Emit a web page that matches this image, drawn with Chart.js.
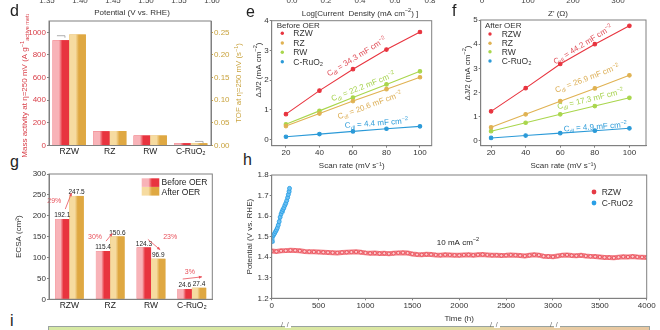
<!DOCTYPE html>
<html>
<head>
<meta charset="utf-8">
<script src="https://cdn.jsdelivr.net/npm/chart.js@4.4.1/dist/chart.umd.min.js"></script>
<style>
  html, body { margin: 0; padding: 0; background: #fff; }
  body { width: 660px; height: 330px; overflow: hidden; position: relative; font-family: "Liberation Sans", Arial, sans-serif; }
  canvas { position: absolute; }
  .p { position: absolute; line-height: 1; font-size: 16px; color: #222; }
  #strip { position: absolute; left: 48px; top: 326px; width: 600px; height: 10px; border: 1px solid #9aa3a0;
    background: linear-gradient(to right, #d6e9a4 0%, #dbe6a2 60%, #e2d8a2 73%, #e9cfa6 76%, #e8c7a0 100%); }
  .brk { position: absolute; top: 321px; font-size: 7px; color: #666; line-height: 1; }
  .gap { position: absolute; top: 325px; width: 6px; height: 3px; background: #fff; }
</style>
</head>
<body>

<canvas id="cTop" width="660" height="20" style="left:0;top:0"></canvas>

<div class="p" style="left:10px;top:3px">d</div>
<div class="p" style="left:246px;top:4px">e</div>
<div class="p" style="left:452px;top:3px">f</div>
<div class="p" style="left:10px;top:154px">g</div>
<div class="p" style="left:243px;top:152px">h</div>
<div class="p" style="left:10px;top:313px">i</div>

<canvas id="cD" width="245" height="156" style="left:0;top:14px"></canvas>
<canvas id="cE" width="200" height="158" style="left:245px;top:14px"></canvas>
<canvas id="cF" width="210" height="158" style="left:450px;top:14px"></canvas>
<canvas id="cG" width="245" height="150" style="left:0;top:165px"></canvas>
<canvas id="cH" width="415" height="160" style="left:245px;top:165px"></canvas>

<div id="strip"></div>
<div class="gap" style="left:285px"></div><div class="brk" style="left:281px">/ &nbsp;/</div>
<div class="gap" style="left:494px"></div><div class="brk" style="left:490px">/ &nbsp;/</div>
<div class="gap" style="left:554px"></div><div class="brk" style="left:550px">/ &nbsp;/</div>

<script>
// ---- data ----
const samples = ['RZW', 'RZ', 'RW', 'C-RuO₂'];
const massActivity = [930, 125, 88, 20];
const massActivityErr = [40, 0, 0, 0];
const tof = [0.245, 0.032, 0.022, 0.005];
const tofErr = [0, 0, 0, 0.004];
const massTicks = [0, 200, 400, 600, 800, 1000];
const tofTicks = [0, 0.05, 0.10, 0.15, 0.20, 0.25];

const scanRates = [20, 40, 60, 80, 100];
const beforeRZW = [0.86, 1.65, 2.37, 3.03, 3.62];
const beforeRZ = [0.46, 0.88, 1.30, 1.70, 2.10];
const beforeRW = [0.52, 0.97, 1.42, 1.86, 2.30];
const beforeRuO2 = [0.10, 0.19, 0.28, 0.37, 0.45];
const afterRZW = [1.22, 2.18, 3.18, 4.00, 4.76];
const afterRZ = [0.56, 1.10, 1.64, 2.17, 2.71];
const afterRW = [0.40, 0.75, 1.10, 1.44, 1.78];
const afterRuO2 = [0.12, 0.22, 0.32, 0.42, 0.52];
const cdlBefore = [34.3, 20.6, 22.2, 4.4];   // RZW, RZ, RW, C-RuO2
const cdlAfter = [44.2, 26.9, 17.3, 4.9];
const eTicksY = [0, 1, 2, 3, 4];
const fTicksY = [0, 1, 2, 3, 4, 5];

const ecsaBefore = [192.1, 115.4, 124.3, 24.6];
const ecsaAfter = [247.5, 150.6, 96.9, 27.4];
const ecsaChange = ['29%', '30%', '23%', '3%'];
const ecsaTicks = [0, 50, 100, 150, 200, 250, 300];

const rzwStep = 50; // h between samples
const rzwPotential = [
  1.430, 1.428, 1.431, 1.432, 1.434, 1.433, 1.431, 1.428, 1.427, 1.426,
  1.425, 1.424, 1.423, 1.422, 1.421, 1.423, 1.424, 1.425, 1.426, 1.424,
  1.421, 1.419, 1.420, 1.418, 1.419, 1.417, 1.419, 1.421, 1.422, 1.420,
  1.416, 1.413, 1.412, 1.414, 1.413, 1.411, 1.410, 1.412, 1.411, 1.410,
  1.409, 1.411, 1.412, 1.410, 1.412, 1.413, 1.411, 1.409, 1.410, 1.408,
  1.409, 1.411, 1.410, 1.408, 1.406, 1.409, 1.412, 1.410, 1.405, 1.404,
  1.402, 1.406, 1.410, 1.411, 1.408, 1.407, 1.409, 1.406, 1.404, 1.403,
  1.401, 1.399, 1.398, 1.397, 1.400, 1.402, 1.401, 1.403, 1.401, 1.400, 1.399
];
const ruo2Hours = [5, 12, 20, 30, 40, 50, 60, 70, 80, 90, 100, 110, 120, 130, 140, 150, 160, 170, 178, 185, 190];
const ruo2Potential = [1.476, 1.503, 1.508, 1.515, 1.524, 1.532, 1.542, 1.556, 1.573, 1.595, 1.610,
  1.622, 1.632, 1.640, 1.652, 1.662, 1.675, 1.690, 1.705, 1.720, 1.735];
const hTicksX = [0, 500, 1000, 1500, 2000, 2500, 3000, 3500, 4000];
const hTicksY = [1.2, 1.3, 1.4, 1.5, 1.6, 1.7, 1.8];

// cut-off axes of the row above (only their lower edge shows)
const topTickLabels = [
  ['1.35', 47], ['1.40', 80], ['1.45', 113], ['1.50', 146], ['1.55', 179], ['1.60', 212],
  ['0.0', 292], ['0.2', 326], ['0.4', 360], ['0.6', 395], ['0.8', 430],
  ['0', 482], ['100', 528], ['200', 573], ['300', 618]
];

// ---- style ----
const FONT = '"Liberation Sans", Arial, sans-serif';
Chart.defaults.font.family = FONT;
Chart.defaults.font.size = 8;
Chart.defaults.color = '#333';
Chart.defaults.animation = false;
Chart.defaults.responsive = false;
Chart.defaults.plugins.legend.display = false;
Chart.defaults.plugins.tooltip.enabled = false;

const AXIS = '#808080';
const RED = '#e8343f', RED_L = '#f8b3b8', RED_T = '#d9404a';
const GOLD = '#dfa842', GOLD_L = '#f6dba0', GOLD_T = '#c9a33e';
const TAN = '#e0b252', GREEN = '#a9d64c', BLUE = '#2b9ad8';

const fit = size => s => { if (s.isHorizontal()) s.height = size; else s.width = size; };
const setTicks = vals => s => { s.ticks = vals.map(v => ({ value: v })); };
const tickGrid = color => ({ display: true, drawOnChartArea: false, drawTicks: true, tickLength: 2, color: color || AXIS });
const noGrid = { display: false, drawTicks: false };
const border = { display: true, color: AXIS };
const plain = v => String(v);

function drawRich(ctx, parts, x, y, o = {}) {
  const size = o.size || 8;
  const segs = parts.map(p => {
    const [t, m] = Array.isArray(p) ? p : [p, ''];
    const s = m ? size * 0.7 : size;
    ctx.font = `${s}px ${FONT}`;
    return { t, m, s, w: ctx.measureText(t).width };
  });
  const total = segs.reduce((a, b) => a + b.w, 0);
  ctx.save();
  ctx.translate(x, y);
  ctx.rotate((o.angle || 0) * Math.PI / 180);
  ctx.fillStyle = o.color || '#333';
  ctx.textBaseline = 'alphabetic';
  let cx = o.align === 'left' ? 0 : o.align === 'right' ? -total : -total / 2;
  const base = size * 0.36;
  segs.forEach(s => {
    ctx.font = `${s.s}px ${FONT}`;
    const dy = s.m === 'sup' ? -size * 0.4 : s.m === 'sub' ? size * 0.25 : 0;
    ctx.fillText(s.t, cx, base + dy);
    cx += s.w;
  });
  ctx.restore();
}

// top strip
(() => {
  const ctx = document.getElementById('cTop').getContext('2d');
  topTickLabels.forEach(([t, x]) => drawRich(ctx, [t], x, -0.3, { size: 8, color: '#444' }));
  drawRich(ctx, ['Potential (V vs. RHE)'], 132, 12, { size: 8, color: '#333' });
  drawRich(ctx, ['Log[Current  Density (mA cm', ['−2', 'sup'], ') ]'], 360, 12.8, { size: 8, color: '#333' });
  drawRich(ctx, ["Z' (Ω)"], 558, 12.8, { size: 8, color: '#333' });
})();

function arrow(ctx, x0, y0, x1, y1, color) {
  const a = Math.atan2(y1 - y0, x1 - x0);
  ctx.save();
  ctx.strokeStyle = color; ctx.fillStyle = color; ctx.lineWidth = 0.8;
  ctx.beginPath(); ctx.moveTo(x0, y0); ctx.lineTo(x1, y1); ctx.stroke();
  ctx.beginPath(); ctx.moveTo(x1, y1);
  ctx.lineTo(x1 - 3.5 * Math.cos(a - 0.45), y1 - 3.5 * Math.sin(a - 0.45));
  ctx.lineTo(x1 - 3.5 * Math.cos(a + 0.45), y1 - 3.5 * Math.sin(a + 0.45));
  ctx.closePath(); ctx.fill();
  ctx.restore();
}

function barGradient(ctx, l, r, colors) {
  const g = ctx.createLinearGradient(l, 0, r, 0);
  g.addColorStop(0, colors[0]);
  g.addColorStop(0.38, colors[0]);
  g.addColorStop(0.58, colors[1]);
  g.addColorStop(1, colors[1]);
  return g;
}

const frame = {
  id: 'frame',
  afterDraw(chart) {
    const { ctx, chartArea: a } = chart;
    ctx.save();
    ctx.strokeStyle = AXIS; ctx.lineWidth = 1;
    ctx.strokeRect(a.left, a.top, a.width, a.height);
    ctx.restore();
  }
};

const gradientBars = {
  id: 'gradientBars',
  afterDatasetsDraw(chart) {
    const ctx = chart.ctx;
    chart.data.datasets.forEach((ds, i) => {
      if (!ds.grad) return;
      chart.getDatasetMeta(i).data.forEach(bar => {
        const l = bar.x - bar.width / 2, r = bar.x + bar.width / 2;
        ctx.fillStyle = barGradient(ctx, l, r, ds.grad);
        ctx.fillRect(l, bar.y, bar.width, bar.base - bar.y);
      });
    });
  }
};

const errorBars = {
  id: 'errorBars',
  afterDatasetsDraw(chart) {
    const ctx = chart.ctx;
    chart.data.datasets.forEach((ds, i) => {
      if (!ds.err) return;
      const scale = chart.scales[ds.yAxisID];
      chart.getDatasetMeta(i).data.forEach((bar, j) => {
        if (!ds.err[j]) return;
        const yTop = scale.getPixelForValue(ds.data[j] + ds.err[j]);
        ctx.save();
        ctx.strokeStyle = '#999'; ctx.lineWidth = 0.8;
        ctx.beginPath();
        ctx.moveTo(bar.x - 4, yTop); ctx.lineTo(bar.x + 4, yTop);
        ctx.moveTo(bar.x + 4, yTop); ctx.lineTo(bar.x + 4, yTop + 2);
        ctx.stroke();
        ctx.restore();
      });
    });
  }
};

const texts = items => ({
  id: 'texts',
  afterDraw(chart) {
    const ctx = chart.ctx;
    items.forEach(it => {
      let x = it.x, y = it.y, angle = it.angle || 0;
      const sx = chart.scales.x, sy = chart.scales.y;
      if (it.data) { x = sx.getPixelForValue(it.data[0]); y = sy.getPixelForValue(it.data[1]); }
      if (it.slope) {
        const [x0, y0, x1, y1] = it.slope;
        angle = Math.atan2(sy.getPixelForValue(y1) - sy.getPixelForValue(y0),
                           sx.getPixelForValue(x1) - sx.getPixelForValue(x0)) * 180 / Math.PI;
      }
      drawRich(ctx, it.parts, x, y, Object.assign({}, it, { angle }));
    });
  }
});

const pointLegend = (title, pos) => ({
  id: 'pointLegend',
  afterDraw(chart) {
    const ctx = chart.ctx;
    drawRich(ctx, [title], pos.x, pos.y, { size: 8, align: 'left', color: '#333' });
    chart.data.datasets.forEach((ds, i) => {
      const y = pos.rows[i];
      ctx.fillStyle = ds.pointBackgroundColor;
      ctx.beginPath(); ctx.arc(pos.mx, y, 1.7, 0, Math.PI * 2); ctx.fill();
      drawRich(ctx, [ds.label], pos.tx, y, { size: 8.5, align: 'left', color: '#333' });
    });
  }
});

const cdlParts = v => ['C', ['dl', 'sub'], ` = ${v} mF cm`, ['−2', 'sup']];
const ySeriesDs = (label, ys, color) => ({
  label, data: scanRates.map((x, i) => ({ x, y: ys[i] })), showLine: true,
  borderColor: color, backgroundColor: color, pointBackgroundColor: color, pointBorderColor: color,
  pointRadius: 1.8, borderWidth: 1.1
});
const seriesColors = [RED, TAN, GREEN, BLUE];
const cdlColors = ['#e0505a', '#dcae55', '#a6d24e', '#2a9ad8'];
const seriesNames = ['RZW', 'RZ', 'RW', 'C-RuO₂'];

// ---- d : mass activity / TOF ----
new Chart(document.getElementById('cD'), {
  type: 'bar',
  data: {
    labels: samples,
    datasets: [
      { label: 'Mass activity', data: massActivity, err: massActivityErr, yAxisID: 'y', backgroundColor: RED, grad: [RED_L, RED] },
      { label: 'TOF', data: tof, err: tofErr, yAxisID: 'y1', backgroundColor: GOLD, grad: [GOLD_L, GOLD] }
    ]
  },
  options: {
    layout: { padding: { top: 7, left: 0, right: 0, bottom: 0 } },
    datasets: { bar: { categoryPercentage: 0.82, barPercentage: 1 } },
    scales: {
      x: { grid: noGrid, border, ticks: { padding: 1, color: '#222', font: { size: 8.5 } }, afterFit: fit(24.5) },
      y: { position: 'left', min: 0, max: 1100, afterBuildTicks: setTicks(massTicks), grid: tickGrid(), border,
           ticks: { padding: 1, color: RED_T, callback: plain }, afterFit: fit(49) },
      y1: { position: 'right', min: 0, max: 0.275, afterBuildTicks: setTicks(tofTicks), grid: tickGrid(GOLD_T), border,
            ticks: { padding: 1, color: GOLD_T, callback: v => v.toFixed(2) }, afterFit: fit(34) }
    }
  },
  plugins: [gradientBars, errorBars, frame, texts([
    { parts: ['Mass activity at η=250 mV (A g', ['−1', 'sup'], ['active metal', 'sub'], ')'], x: 24, y: 69, angle: -90, size: 8, color: RED_T },
    { parts: ['TOF at η=250 mV (s', ['−1', 'sup'], ')'], x: 238, y: 69, angle: -90, size: 7.8, color: GOLD_T }
  ])]
});

// ---- e / f : double-layer capacitance ----
function cdlChart(id, series, cdl, ticksY, yMax, xRange, area, legendTitle, legendPos, cdlPos, yTitlePos) {
  new Chart(document.getElementById(id), {
    type: 'scatter',
    data: { datasets: series.map((ys, i) => ySeriesDs(seriesNames[i], ys, seriesColors[i])) },
    options: {
      layout: { padding: { top: area.top, left: 0, right: area.right, bottom: 0 } },
      scales: {
        x: { type: 'linear', min: xRange[0], max: xRange[1], afterBuildTicks: setTicks(scanRates), grid: tickGrid(), border,
             ticks: { padding: 0 }, afterFit: fit(26.3),
             title: { display: true, text: 'Scan rate (mV s⁻¹)', color: '#333', font: { size: 8 }, padding: { top: 0, bottom: 1 } } },
        y: { min: -0.2, max: yMax, afterBuildTicks: setTicks(ticksY), grid: tickGrid(), border,
             ticks: { padding: 1 }, afterFit: fit(area.left) }
      }
    },
    plugins: [frame, pointLegend(legendTitle, legendPos), texts([
      { parts: ['ΔJ/2 (mA cm', ['−2', 'sup'], ')'], x: yTitlePos[0], y: yTitlePos[1], angle: -90, size: 8, color: '#333' },
      ...series.map((ys, i) => ({
        data: cdlPos[i], slope: [scanRates[0], ys[0], scanRates[4], ys[4]],
        parts: cdlParts(cdl[i]), color: cdlColors[i], size: 8
      }))
    ])]
  });
}

cdlChart('cE', [beforeRZW, beforeRZ, beforeRW, beforeRuO2], cdlBefore, eTicksY, 4, [11.5, 107],
  { top: 6.7, right: 13.3, left: 26.7 }, 'Before OER',
  { x: 31.7, y: 11, mx: 37.3, tx: 48.3, rows: [19.3, 29, 38.3, 47.7] },
  [[62, 2.8], [70, 1.17], [66, 1.8], [74, 0.57]], [12.7, 56]);

cdlChart('cF', [afterRZW, afterRZ, afterRW, afterRuO2], cdlAfter, fTicksY, 5, [14, 109.6],
  { top: 6, right: 14, left: 30.7 }, 'After OER',
  { x: 35, y: 11, mx: 40, tx: 51.7, rows: [20, 29.3, 37.7, 47] },
  [[73, 4.0], [75.5, 2.6], [77.4, 1.75], [80.3, 0.6]], [16.7, 59]);

// ---- g : ECSA ----
const barValues = {
  id: 'barValues',
  afterDatasetsDraw(chart) {
    const ctx = chart.ctx;
    chart.data.datasets.forEach((ds, i) => {
      chart.getDatasetMeta(i).data.forEach((bar, j) => {
        drawRich(ctx, [ds.data[j].toFixed(1)], bar.x, bar.y - 4, { size: 6.5, color: '#222' });
      });
    });
  }
};

const ecsaArrows = {
  id: 'ecsaArrows',
  afterDatasetsDraw(chart) {
    const ctx = chart.ctx;
    const before = chart.getDatasetMeta(0).data, after = chart.getDatasetMeta(1).data;
    before.forEach((b, i) => {
      const a = after[i];
      const diff = ecsaAfter[i] - ecsaBefore[i];
      let x0, y0, x1, y1, tx, ty, align;
      if (Math.abs(diff) < 10) {
        x0 = b.x - 2; y0 = b.y - 10; x1 = a.x + 3; y1 = a.y - 11;
        tx = (b.x + a.x) / 2 - 2; ty = Math.min(b.y, a.y) - 16; align = 'center';
      } else if (diff > 0) {
        x0 = b.x + 3; y0 = b.y - 10; x1 = a.x - 5; y1 = a.y - 3;
        tx = x0 - 4; ty = (y0 + y1) / 2 - 1; align = 'right';
      } else {
        x0 = b.x + 4; y0 = b.y - 8; x1 = a.x + 2; y1 = a.y - 9;
        tx = x1 + 3; ty = y0 - 3; align = 'left';
      }
      arrow(ctx, x0, y0, x1, y1, '#e8505a');
      drawRich(ctx, [ecsaChange[i]], tx, ty, { size: 7, color: '#e8505a', align });
    });
  }
};

const boxLegend = {
  id: 'boxLegend',
  afterDraw(chart) {
    const ctx = chart.ctx;
    const rows = [[13.3, 17.3], [22, 26.7]];
    chart.data.datasets.forEach((ds, i) => {
      const [top, ty] = rows[i];
      ctx.fillStyle = barGradient(ctx, 141.7, 159.3, ds.grad);
      ctx.fillRect(141.7, top, 17.6, 8.6);
      drawRich(ctx, [ds.label], 161.5, ty, { size: 8.5, align: 'left', color: '#222' });
    });
  }
};

new Chart(document.getElementById('cG'), {
  type: 'bar',
  data: {
    labels: samples,
    datasets: [
      { label: 'Before OER', data: ecsaBefore, backgroundColor: RED, grad: [RED_L, RED] },
      { label: 'After OER', data: ecsaAfter, backgroundColor: GOLD, grad: [GOLD_L, GOLD] }
    ]
  },
  options: {
    layout: { padding: { top: 9, left: 0, right: 32.7, bottom: 0 } },
    datasets: { bar: { categoryPercentage: 0.7, barPercentage: 1 } },
    scales: {
      x: { grid: noGrid, border, ticks: { padding: 1, color: '#222', font: { size: 8.5 } }, afterFit: fit(15.7) },
      y: { min: 0, max: 300, afterBuildTicks: setTicks(ecsaTicks), grid: tickGrid(), border, ticks: { padding: 1, callback: plain }, afterFit: fit(49),
           title: { display: true, text: 'ECSA (cm²)', color: '#333', font: { size: 8 }, padding: { top: 14, bottom: 0 } } }
    }
  },
  plugins: [gradientBars, barValues, ecsaArrows, frame, boxLegend]
});

// ---- h : stability ----
const hLegend = {
  id: 'hLegend',
  afterDraw(chart) {
    const ctx = chart.ctx;
    const rows = [27, 38];
    chart.data.datasets.forEach((ds, i) => {
      ctx.fillStyle = ds.pointBorderColor;
      ctx.beginPath(); ctx.arc(349, rows[i], 2.4, 0, Math.PI * 2); ctx.fill();
      drawRich(ctx, [ds.label], 356.7, rows[i], { size: 8.5, align: 'left', color: '#333' });
    });
  }
};

new Chart(document.getElementById('cH'), {
  type: 'scatter',
  data: {
    datasets: [
      { label: 'RZW', data: rzwPotential.map((y, i) => ({ x: i * rzwStep, y })), showLine: true,
        borderColor: 'rgba(236,80,90,0.75)', borderWidth: 5, pointRadius: 1.6, pointBorderWidth: 0.7,
        pointBorderColor: '#e53a45', pointBackgroundColor: 'rgba(255,215,218,0.9)' },
      { label: 'C-RuO2', data: ruo2Hours.map((x, i) => ({ x, y: ruo2Potential[i] })), showLine: true,
        borderColor: 'rgba(42,159,230,0.7)', borderWidth: 3.5, pointRadius: 2, pointBorderWidth: 0.8,
        pointBorderColor: '#2a9fe6', pointBackgroundColor: '#6cc0f2' }
    ]
  },
  options: {
    layout: { padding: { top: 10, left: 0, right: 13.3, bottom: 0 } },
    scales: {
      x: { type: 'linear', min: 0, max: 4000, afterBuildTicks: setTicks(hTicksX), grid: tickGrid(), border,
           ticks: { padding: 1, callback: plain }, afterFit: fit(26.7),
           title: { display: true, text: 'Time (h)', color: '#333', font: { size: 8 }, padding: { top: 0, bottom: 1.2 } } },
      y: { min: 1.2, max: 1.8, afterBuildTicks: setTicks(hTicksY), grid: tickGrid(), border,
           ticks: { padding: 1, callback: v => v.toFixed(1) }, afterFit: fit(26.7),
           title: { display: true, text: 'Potential (V vs. RHE)', color: '#333', font: { size: 8 }, padding: { top: 0, bottom: 0 } } }
    }
  },
  plugins: [frame, hLegend, texts([
    { parts: ['10 mA cm', ['−2', 'sup']], data: [1987, 1.475], size: 8, color: '#222' }
  ])]
});
</script>
</body>
</html>
